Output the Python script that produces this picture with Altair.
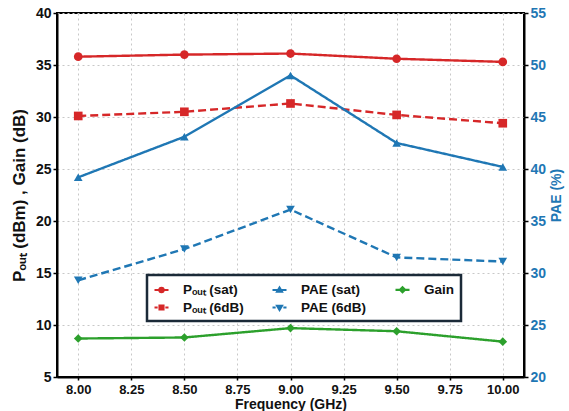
import altair as alt
import pandas as pd

freq = [8.0, 8.5, 9.0, 9.5, 10.0]
pout_sat = [35.8, 36.0, 36.1, 35.6, 35.3]
pout_6db = [30.1, 30.5, 31.3, 30.2, 29.4]
gain = [8.7, 8.8, 9.7, 9.4, 8.4]
pae_sat = [39.2, 43.1, 49.0, 42.5, 40.2]
pae_6db = [29.3, 32.3, 36.1, 31.5, 31.1]

S_PS = "P\u2092\u1d64\u209c (sat)"
S_P6 = "P\u2092\u1d64\u209c (6dB)"
S_AS = "PAE (sat)"
S_A6 = "PAE (6dB)"
S_G = "Gain"

# legend order (filled column by column)
series_order = [S_PS, S_P6, S_AS, S_A6, S_G]
colors = ["#d62728", "#d62728", "#1f77b4", "#1f77b4", "#2ca02c"]
dashes = [[1, 0], [8, 4], [1, 0], [8, 4], [1, 0]]
markers = ["circle", "square", "triangle-up", "triangle-down", "diamond"]
legend_paths = [
    "M-1,0H1M0.3,0A0.3,0.3,0,1,1,-0.3,0A0.3,0.3,0,1,1,0.3,0Z",
    "M-1,0H-0.55M-0.3,0H0.3M0.55,0H1M-0.28,-0.28H0.28V0.28H-0.28Z",
    "M-1,0H1M0,-0.34L0.34,0.24H-0.34Z",
    "M-1,0H-0.55M-0.3,0H0.3M0.55,0H1M0,0.34L0.34,-0.24H-0.34Z",
    "M-1,0H1M0,-0.36L0.36,0L0,0.36L-0.36,0Z",
]

left_df = pd.DataFrame({
    "freq": freq * 3,
    "value": pout_sat + pout_6db + gain,
    "series": [S_PS] * 5 + [S_P6] * 5 + [S_G] * 5,
})
right_df = pd.DataFrame({
    "freq": freq * 2,
    "value": pae_sat + pae_6db,
    "series": [S_AS] * 5 + [S_A6] * 5,
})
legend_df = pd.DataFrame({"series": series_order})

FONT = "Liberation Sans"
BLUE = "#1f77b4"

color_scale = alt.Scale(domain=series_order, range=colors)
dash_scale = alt.Scale(domain=series_order, range=dashes)
shape_scale = alt.Scale(domain=series_order, range=markers)

x_enc = alt.X(
    "freq:Q",
    scale=alt.Scale(domain=[7.9, 10.1], nice=False, zero=False),
    axis=alt.Axis(
        values=[8.0, 8.25, 8.5, 8.75, 9.0, 9.25, 9.5, 9.75, 10.0],
        format=".2f", title="Frequency (GHz)", titleFontSize=14,
        labelFontSize=13, titlePadding=1, tickSize=3, labelPadding=3,
    ),
)

y_left = alt.Y(
    "value:Q",
    scale=alt.Scale(domain=[5, 40], nice=False, zero=False),
    axis=alt.Axis(
        values=[5, 10, 15, 20, 25, 30, 35, 40],
        title="P\u2092\u1d64\u209c (dBm) , Gain (dB)",
        titleFontSize=17, labelFontSize=14, tickSize=4, labelPadding=2,
        titlePadding=7, orient="left",
    ),
)
y_right = alt.Y(
    "value:Q",
    scale=alt.Scale(domain=[20, 55], nice=False, zero=False),
    axis=alt.Axis(
        values=[20, 25, 30, 35, 40, 45, 50, 55],
        title="PAE (%)", titleFontSize=14, labelFontSize=14,
        labelColor=BLUE, titleColor=BLUE, tickSize=4, labelPadding=2,
        titlePadding=4, orient="right", grid=False, titleAngle=270,
        titleBaseline="top",
    ),
)

def lines_points(df, y):
    base = alt.Chart(df).encode(x=x_enc, y=y)
    ln = base.mark_line(strokeWidth=2.4).encode(
        color=alt.Color("series:N", scale=color_scale, legend=None),
        strokeDash=alt.StrokeDash("series:N", scale=dash_scale, legend=None),
    )
    pt = base.mark_point(filled=True, size=75, opacity=1).encode(
        color=alt.Color("series:N", scale=color_scale, legend=None),
        shape=alt.Shape("series:N", scale=shape_scale, legend=None),
    )
    return alt.layer(ln, pt)

left = lines_points(left_df, y_left)
right = lines_points(right_df, y_right)

leg = alt.Legend(
    title=None, orient="none", legendX=90, legendY=262, columns=3,
    labelFont=FONT, labelFontSize=13.5, labelFontWeight="bold", labelColor="#111",
    symbolSize=196, symbolStrokeWidth=2.2, labelOffset=13, padding=6,
    columnPadding=24, rowPadding=2, strokeColor="#1b2a38", fillColor="white",
    symbolOpacity=1, offset=0,
)
legend_layer = alt.Chart(legend_df).transform_filter("false").mark_point(
    filled=True, strokeWidth=2, opacity=1
).encode(
    fill=alt.Fill("series:N", scale=alt.Scale(domain=series_order, range=colors), legend=leg),
    stroke=alt.Stroke("series:N", scale=alt.Scale(domain=series_order, range=colors), legend=leg),
    shape=alt.Shape("series:N", scale=alt.Scale(domain=series_order, range=legend_paths), legend=leg),
)

chart = alt.layer(left, right, legend_layer).resolve_scale(
    y="independent", color="independent", shape="independent",
    strokeDash="independent", fill="independent", stroke="independent",
).properties(
    width=467, height=364,
    autosize=alt.AutoSizeParams(type="none"),
    padding={"left": 57, "top": 13, "right": 45, "bottom": 34},
).configure(
    font=FONT,
).configure_view(
    stroke="black", strokeWidth=2,
).configure_axis(
    labelFont=FONT, titleFont=FONT, labelFontWeight="bold", titleFontWeight="bold",
    labelColor="#111", titleColor="#111", domainColor="black", domainWidth=2,
    tickColor="black", tickWidth=1.5,
    gridColor="#c8c8c8", gridDash=[2, 3], gridWidth=1,
).configure_legend(
    strokeWidth=2.5,
)

chart.save("out.html", embed_options={"renderer": "svg", "actions": False})
